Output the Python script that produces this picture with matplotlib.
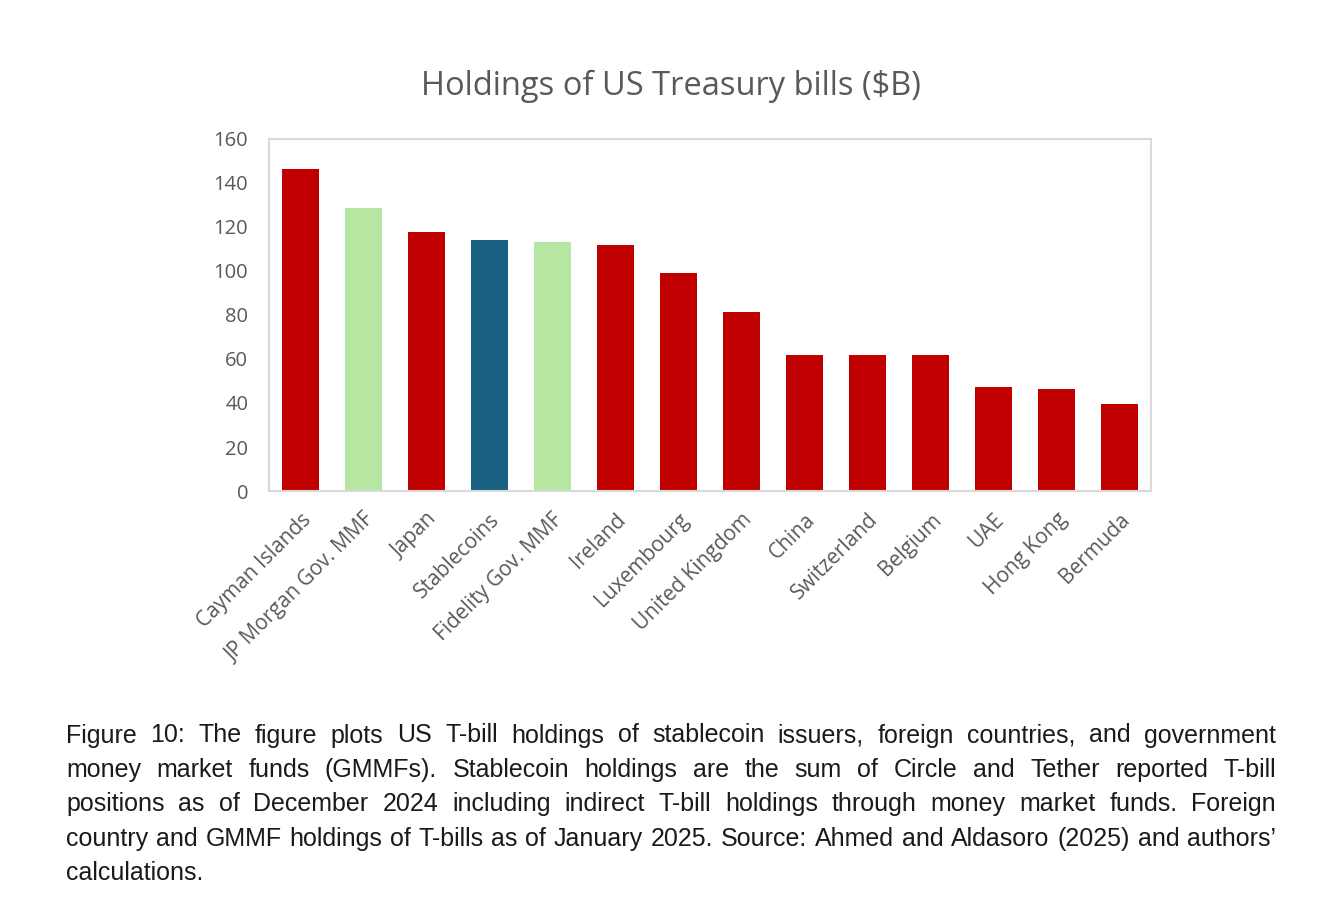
import matplotlib
matplotlib.use("Agg")
import matplotlib.pyplot as plt

names = ["Cayman Islands", "JP Morgan Gov. MMF", "Japan", "Stablecoins",
         "Fidelity Gov. MMF", "Ireland", "Luxembourg", "United Kingdom",
         "China", "Switzerland", "Belgium", "UAE", "Hong Kong", "Bermuda"]
holdings = [146.4, 128.8, 117.8, 114.0, 113.4, 111.9, 99.2, 81.4,
            62.0, 61.7, 61.7, 47.3, 46.3, 39.4]
kinds = ["country", "mmf", "country", "stable", "mmf", "country", "country",
         "country", "country", "country", "country", "country", "country", "country"]

caption_lines = [
    "Figure 10: The figure plots US T-bill holdings of stablecoin issuers, foreign countries, and government",
    "money market funds (GMMFs). Stablecoin holdings are the sum of Circle and Tether reported T-bill",
    "positions as of December 2024 including indirect T-bill holdings through money market funds. Foreign",
    "country and GMMF holdings of T-bills as of January 2025. Source: Ahmed and Aldasoro (2025) and authors\u2019",
    "calculations.",
]

palette = {"country": "#C00000", "mmf": "#B5E6A2", "stable": "#1A6083"}
grey = "#595959"

W, H = 1331, 905
fig = plt.figure(figsize=(W / 100, H / 100), dpi=100)
ax = fig.add_axes([269 / W, 1 - 491 / H, (1151 - 269) / W, (491 - 139) / H])

x = range(len(names))
ax.bar(x, holdings, width=0.59, color=[palette[k] for k in kinds])
ax.set_xlim(-0.5, len(names) - 0.5)
ax.set_ylim(0, 160)
ax.set_yticks(range(0, 161, 20))
ax.set_xticks(list(x))
ax.set_xticklabels(names, rotation=45, ha="right", rotation_mode="anchor",
                   fontsize=15, color=grey, family="Open Sans")
ax.tick_params(axis="both", length=0, labelcolor=grey)
ax.tick_params(axis="y", pad=15, labelsize=14.5)
ax.tick_params(axis="x", pad=13)
for lab in ax.get_yticklabels():
    lab.set_family("Open Sans")
for s in ax.spines.values():
    s.set_color("#D9D9D9")
    s.set_linewidth(1.5)

fig.text(671 / W, 1 - 86 / H, "Holdings of US Treasury bills ($B)", ha="center",
         va="center", fontsize=23.5, color=grey, family="Open Sans")

# justified caption, word by word
renderer = fig.canvas.get_renderer()
left, right = 66, 1276
fs = 18
for i, line in enumerate(caption_lines):
    y = 1 - (742.5 + i * 34.4) / H
    words = line.split(" ")
    if i == len(caption_lines) - 1:
        fig.text(left / W, y, line, fontsize=fs, family="Liberation Sans",
                 color="#1a1a1a", va="baseline")
        continue
    widths = []
    for w in words:
        t = fig.text(0, 0, w, fontsize=fs, family="Liberation Sans")
        widths.append(t.get_window_extent(renderer).width)
        t.remove()
    gap = (right - left - sum(widths)) / (len(words) - 1)
    scale = 1.0
    if gap < 3:
        # too long for the line: squeeze the words a little
        scale = (right - left - 3 * (len(words) - 1)) / sum(widths)
        gap = 3
    px = left
    for w, wd in zip(words, widths):
        fig.text(px / W, y, w, fontsize=fs * scale, family="Liberation Sans",
                 color="#1a1a1a", va="baseline")
        px += wd * scale + gap

fig.savefig("out.png", dpi=100)
